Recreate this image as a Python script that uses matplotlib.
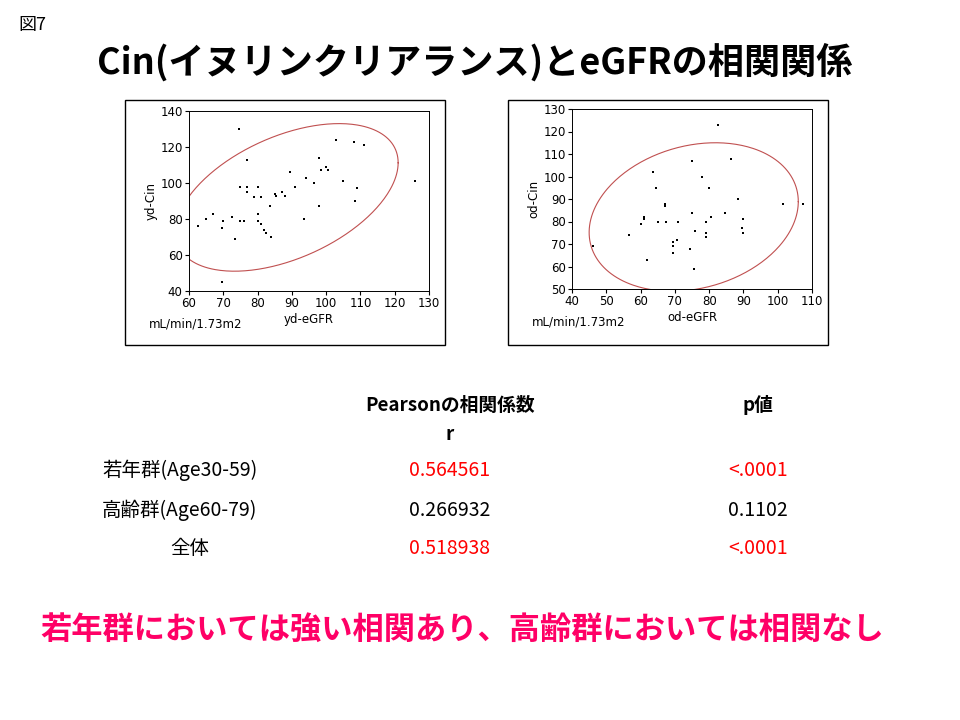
import numpy as np
import matplotlib.pyplot as plt
from matplotlib.patches import Rectangle

yd_egfr = [62.5, 65, 67, 69.5, 70, 69.5, 72.5, 73.5, 74.5, 75, 75, 76, 77, 77, 77, 79, 80, 80, 80, 81, 81, 82, 82.5,
           83.5, 84, 85, 85.5, 87, 88, 89.5, 91, 93.5, 94, 96.5, 98, 98, 98.5, 100, 100.5, 103, 105, 108, 108.5, 109, 111, 126]
yd_cin = [76, 80, 83, 75, 79, 45, 81, 69, 130, 98, 79, 79, 113, 98, 95, 92, 98, 83, 79, 92, 77, 74, 72,
          87, 70, 94, 93, 95, 93, 106, 98, 80, 103, 100, 87, 114, 107, 109, 107, 124, 101, 123, 90, 97, 121, 101]
od_egfr = [46, 56.5, 60, 61, 61, 62, 63.5, 64.5, 65, 67, 67, 67.5, 69.5, 69.5, 69.5, 70.5, 71, 74.5, 75, 75, 75.5,
           76, 78, 79, 79, 79, 80, 80.5, 82.5, 84.5, 86.5, 88.5, 89.5, 90, 90, 101.5, 107.5]
od_cin = [69, 74, 79, 82, 81, 63, 102, 95, 80, 88, 87, 80, 66, 69, 71, 72, 80, 68, 84, 107, 59,
          76, 100, 75, 73, 80, 95, 82, 123, 84, 108, 90, 77, 75, 81, 88, 88]
# density ellipses: centre x, centre y, x half-range, y half-range, phase (deg)
yd_ellipse = [88.5, 92, 32.5, 41, 62]
od_ellipse = [75.5, 82, 30.5, 33, 78]

groups = ["若年群(Age30-59)", "高齢群(Age60-79)", "全体"]
pearson_r = ["0.564561", "0.266932", "0.518938"]
p_values = ["<.0001", "0.1102", "<.0001"]
significant = [True, False, True]

W, H = 960, 720
fig = plt.figure(figsize=(9.6, 7.2), dpi=100)
jp = "Noto Sans CJK JP"


def fx(px):
    return px / W


def fy(py):
    return 1 - py / H


def scatter_panel(box, ax_box, x, y, ell, xlim, ylim, xticks, yticks, xlabel, ylabel):
    fig.patches.append(Rectangle((fx(box[0]), fy(box[3])), (box[2] - box[0]) / W, (box[3] - box[1]) / H,
                                 transform=fig.transFigure, fill=False, edgecolor="black", lw=1))
    l, t, r, b = ax_box
    ax = fig.add_axes([fx(l), fy(b), (r - l) / W, (b - t) / H])
    ax.scatter(x, y, s=3, color="black", marker="s", linewidths=0)
    tt = np.linspace(0, 2 * np.pi, 300)
    cx, cy, ax_, ay_, ph = ell
    ax.plot(cx + ax_ * np.cos(tt), cy + ay_ * np.cos(tt - np.radians(ph)), color="#c05050", lw=0.8, clip_on=True)
    ax.set_xlim(*xlim)
    ax.set_ylim(*ylim)
    ax.set_xticks(xticks)
    ax.set_yticks(yticks)
    ax.tick_params(labelsize=8.5, length=3, pad=1.5)
    ax.set_xlabel(xlabel, fontsize=8.5, labelpad=2)
    ax.set_ylabel(ylabel, fontsize=8.5, labelpad=2)
    for s in ax.spines.values():
        s.set_linewidth(0.7)
    fig.text(fx(l - 40), fy(b + 33), "mL/min/1.73m2", fontsize=8.5, va="center")


scatter_panel((125, 100, 445, 345), (189, 111, 429, 291), yd_egfr, yd_cin, yd_ellipse,
              (60, 130), (40, 140), range(60, 131, 10), range(40, 141, 20), "yd-eGFR", "yd-Cin")
scatter_panel((508, 100, 828, 345), (572, 109, 812, 289), od_egfr, od_cin, od_ellipse,
              (40, 110), (50, 130), range(40, 111, 10), range(50, 131, 10), "od-eGFR", "od-Cin")

fig.text(fx(18), fy(25), "図7", fontsize=13, fontfamily=jp, va="center")
fig.text(fx(475), fy(62), "Cin(イヌリンクリアランス)とeGFRの相関関係", fontsize=26, fontfamily=jp,
         fontweight="bold", ha="center", va="center")

fig.text(fx(450), fy(405), "Pearsonの相関係数", fontsize=13.5, fontfamily=jp, fontweight="bold", ha="center", va="center")
fig.text(fx(450), fy(435), "r", fontsize=13.5, fontfamily=jp, fontweight="bold", ha="center", va="center")
fig.text(fx(758), fy(405), "p値", fontsize=13.5, fontfamily=jp, fontweight="bold", ha="center", va="center")

rows_y = [470, 510, 548]
for i, g in enumerate(groups):
    c = "#ff0000" if significant[i] else "black"
    gx = 102 if i < 2 else 190
    fig.text(fx(gx), fy(rows_y[i]), g, fontsize=14, fontfamily=jp, ha="left" if i < 2 else "center", va="center")
    fig.text(fx(450), fy(rows_y[i]), pearson_r[i], fontsize=14, fontfamily=jp, color=c, ha="center", va="center")
    fig.text(fx(758), fy(rows_y[i]), p_values[i], fontsize=14, fontfamily=jp, color=c, ha="center", va="center")

fig.text(fx(462), fy(630), "若年群においては強い相関あり、高齢群においては相関なし", fontsize=22.5, fontfamily=jp,
         fontweight="bold", color="#ff0066", ha="center", va="center")

fig.savefig("out.png", dpi=100)
